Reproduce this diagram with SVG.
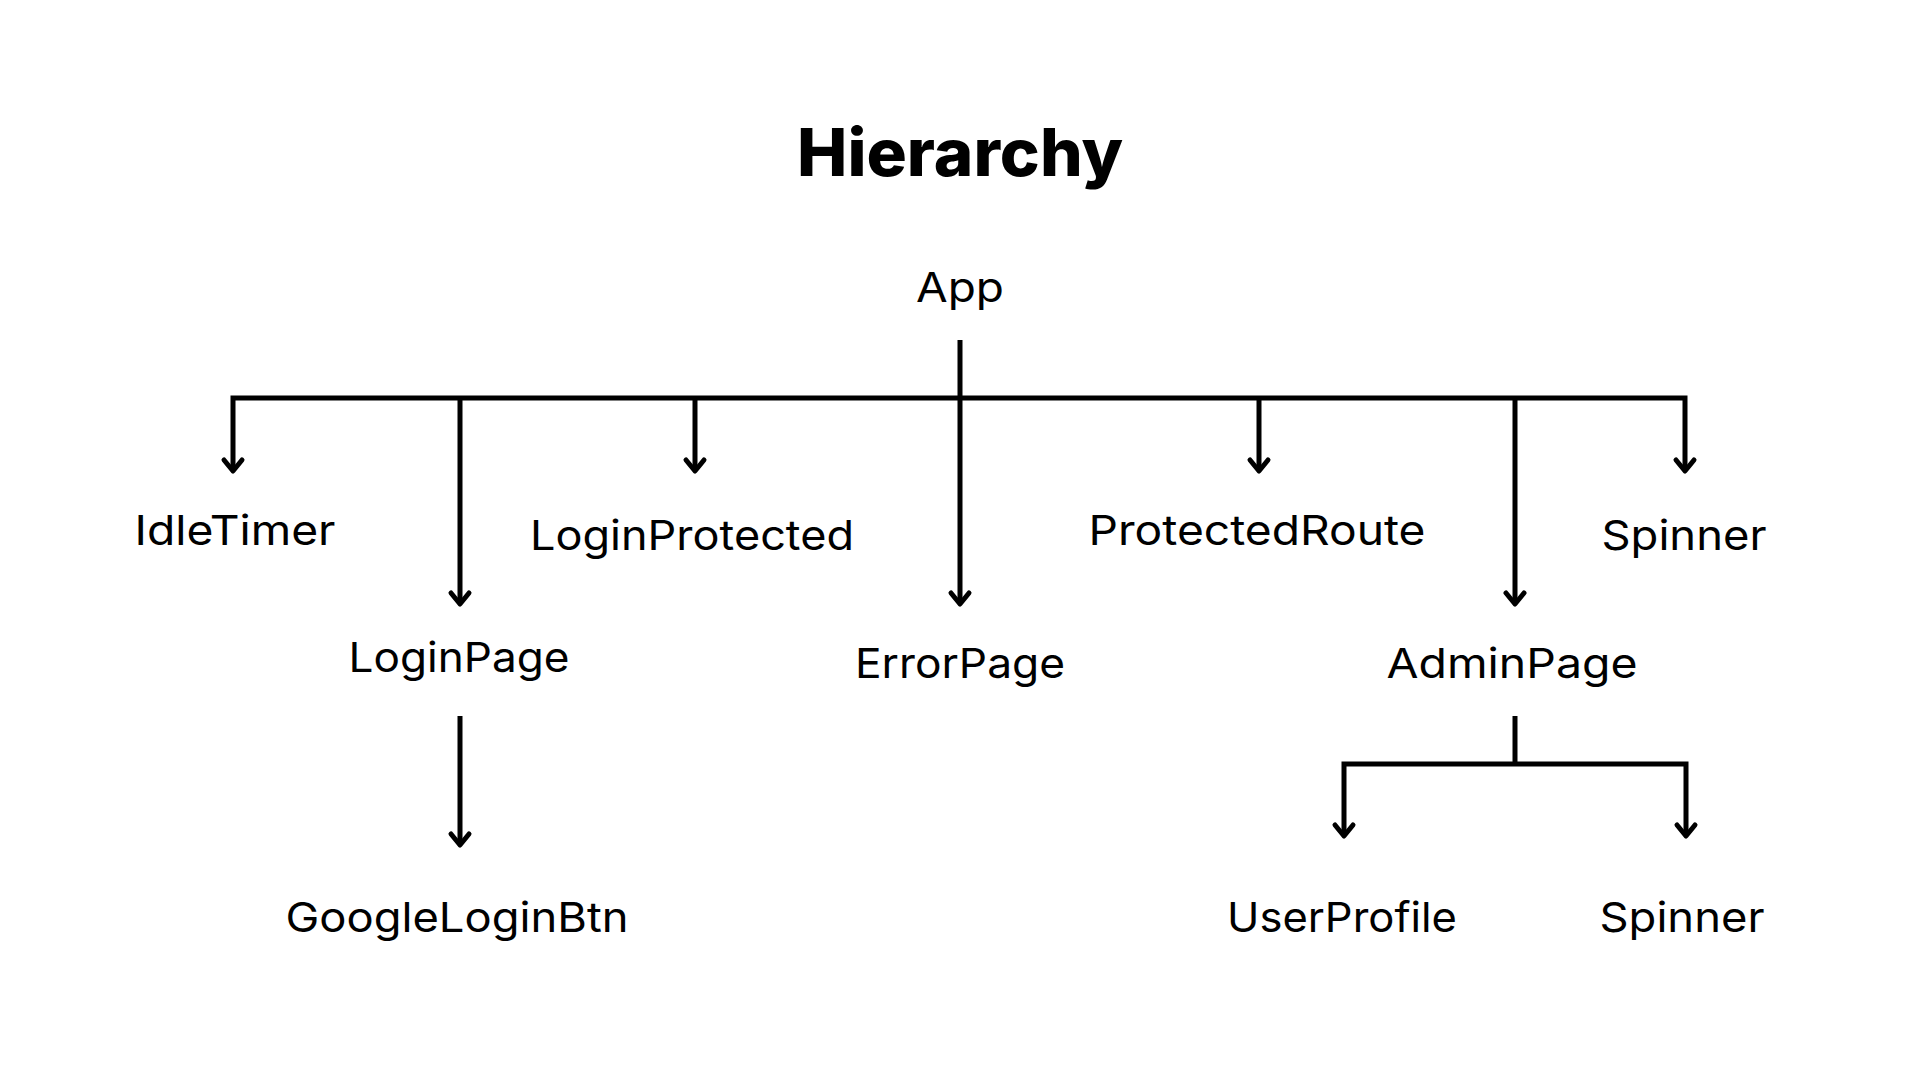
<svg xmlns="http://www.w3.org/2000/svg" width="1920" height="1080" viewBox="0 0 1920 1080">
<defs>
<style>
.t{font-family:Inter,"Open Sans","Liberation Sans",sans-serif;font-size:41px;fill:#000;text-anchor:middle}
.h{font-family:Inter,"Open Sans","Liberation Sans",sans-serif;font-size:66px;font-weight:800;fill:#000;text-anchor:middle}
.c{fill:none;stroke:#000;stroke-width:5;stroke-linejoin:miter}
</style>
<marker id="arr" markerUnits="userSpaceOnUse" markerWidth="40" markerHeight="40" viewBox="-20 -20 40 40" refX="0" refY="0" orient="auto-start-reverse">
<path d="M-11,-9 L0,0 L-11,9" fill="none" stroke="#000" stroke-width="5" stroke-linecap="round" stroke-linejoin="round"/>
</marker>
</defs>
<rect width="1920" height="1080" fill="#fff"/>
<text class="h" x="960" y="176" textLength="326" lengthAdjust="spacingAndGlyphs">Hierarchy</text>
<g id="connectors">
<path class="c" d="M960,340 V604" marker-end="url(#arr)"/>
<path class="c" d="M233,471 V398 H1685 V471" marker-start="url(#arr)" marker-end="url(#arr)"/>
<path class="c" d="M460,398 V604" marker-end="url(#arr)"/>
<path class="c" d="M695,398 V471" marker-end="url(#arr)"/>
<path class="c" d="M1259,398 V471" marker-end="url(#arr)"/>
<path class="c" d="M1515,398 V604" marker-end="url(#arr)"/>
<path class="c" d="M460,716 V845" marker-end="url(#arr)"/>
<path class="c" d="M1515,716 V764"/>
<path class="c" d="M1344,836 V764 H1686 V836" marker-start="url(#arr)" marker-end="url(#arr)"/>
</g>
<g id="app"><text class="t" x="960" y="302" textLength="88" lengthAdjust="spacingAndGlyphs">App</text></g>
<g id="idletimer"><text class="t" x="235" y="545" textLength="201" lengthAdjust="spacingAndGlyphs">IdleTimer</text></g>
<g id="loginprotected"><text class="t" x="692" y="550" textLength="324" lengthAdjust="spacingAndGlyphs">LoginProtected</text></g>
<g id="protectedroute"><text class="t" x="1257" y="545" textLength="337" lengthAdjust="spacingAndGlyphs">ProtectedRoute</text></g>
<g id="spinner1"><text class="t" x="1684" y="550" textLength="165" lengthAdjust="spacingAndGlyphs">Spinner</text></g>
<g id="loginpage"><text class="t" x="459" y="672" textLength="221" lengthAdjust="spacingAndGlyphs">LoginPage</text></g>
<g id="errorpage"><text class="t" x="960" y="678" textLength="210" lengthAdjust="spacingAndGlyphs">ErrorPage</text></g>
<g id="adminpage"><text class="t" x="1512" y="678" textLength="251" lengthAdjust="spacingAndGlyphs">AdminPage</text></g>
<g id="googleloginbtn"><text class="t" x="457" y="932" textLength="343" lengthAdjust="spacingAndGlyphs">GoogleLoginBtn</text></g>
<g id="userprofile"><text class="t" x="1342" y="932" textLength="230" lengthAdjust="spacingAndGlyphs">UserProfile</text></g>
<g id="spinner2"><text class="t" x="1682" y="932" textLength="165" lengthAdjust="spacingAndGlyphs">Spinner</text></g>
</svg>
